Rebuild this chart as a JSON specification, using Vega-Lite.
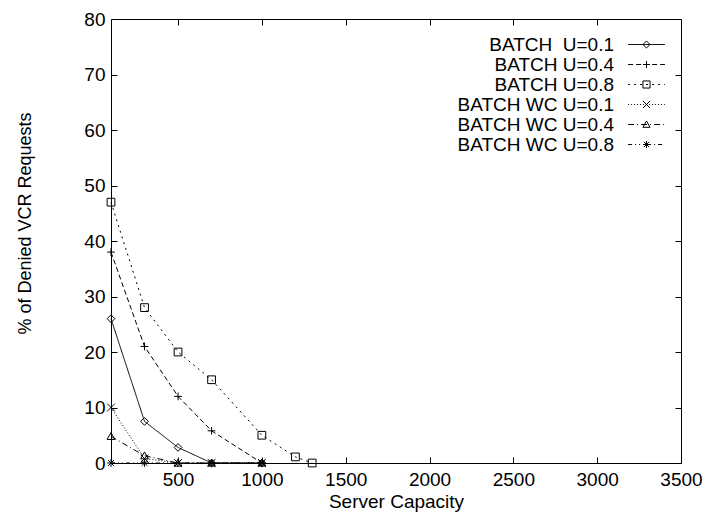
{
  "$schema": "https://vega.github.io/schema/vega-lite/v6.json",
  "autosize": "none",
  "width": 570,
  "height": 444,
  "padding": {"left": 111, "top": 19, "right": 26, "bottom": 52},
  "background": "white",
  "config": {
    "view": {"stroke": "black", "strokeWidth": 1},
    "font": "Liberation Sans",
    "axis": {"grid": false, "domain": false, "tickColor": "black", "tickWidth": 1, "tickSize": 6, "offset": -6, "labelColor": "black", "titleColor": "black", "labelFont": "Liberation Sans", "titleFont": "Liberation Sans", "labelFontSize": 19, "titleFontSize": 19, "titleFontWeight": "normal", "labelOverlap": false, "labelFlush": false, "format": "d", "zindex": 1}
  },
  "data": {"values": [
    {"s": "BATCH\u00a0 U=0.1", "x": 100, "y": 26},
    {"s": "BATCH\u00a0 U=0.1", "x": 300, "y": 7.5},
    {"s": "BATCH\u00a0 U=0.1", "x": 500, "y": 2.8},
    {"s": "BATCH\u00a0 U=0.1", "x": 700, "y": 0},
    {"s": "BATCH\u00a0 U=0.1", "x": 1000, "y": 0},
    {"s": "BATCH U=0.4", "x": 100, "y": 38},
    {"s": "BATCH U=0.4", "x": 300, "y": 21},
    {"s": "BATCH U=0.4", "x": 500, "y": 12},
    {"s": "BATCH U=0.4", "x": 700, "y": 5.8},
    {"s": "BATCH U=0.4", "x": 1000, "y": 0},
    {"s": "BATCH U=0.8", "x": 100, "y": 47},
    {"s": "BATCH U=0.8", "x": 300, "y": 28},
    {"s": "BATCH U=0.8", "x": 500, "y": 20},
    {"s": "BATCH U=0.8", "x": 700, "y": 15},
    {"s": "BATCH U=0.8", "x": 1000, "y": 5},
    {"s": "BATCH U=0.8", "x": 1200, "y": 1.1},
    {"s": "BATCH U=0.8", "x": 1300, "y": 0},
    {"s": "BATCH WC U=0.1", "x": 100, "y": 10},
    {"s": "BATCH WC U=0.1", "x": 300, "y": 0.8},
    {"s": "BATCH WC U=0.1", "x": 500, "y": 0},
    {"s": "BATCH WC U=0.1", "x": 700, "y": 0},
    {"s": "BATCH WC U=0.1", "x": 1000, "y": 0},
    {"s": "BATCH WC U=0.4", "x": 100, "y": 4.8},
    {"s": "BATCH WC U=0.4", "x": 300, "y": 1.3},
    {"s": "BATCH WC U=0.4", "x": 500, "y": 0},
    {"s": "BATCH WC U=0.4", "x": 700, "y": 0},
    {"s": "BATCH WC U=0.4", "x": 1000, "y": 0},
    {"s": "BATCH WC U=0.8", "x": 100, "y": 0},
    {"s": "BATCH WC U=0.8", "x": 300, "y": 0},
    {"s": "BATCH WC U=0.8", "x": 500, "y": 0},
    {"s": "BATCH WC U=0.8", "x": 700, "y": 0},
    {"s": "BATCH WC U=0.8", "x": 1000, "y": 0}
  ]},
  "transform": [{"calculate": "datum.s", "as": "s2"}],
  "resolve": {"axis": {"x": "independent", "y": "independent"}},
  "layer": [
    {
      "mark": {"type": "line", "color": "black", "strokeWidth": 1},
      "encoding": {
        "x": {"field": "x", "type": "quantitative", "scale": {"domain": [100, 3500], "nice": false, "zero": false},
              "axis": {"orient": "bottom", "values": [500, 1000, 1500, 2000, 2500, 3000, 3500], "title": "Server Capacity", "titleY": 50, "titleBaseline": "alphabetic", "labelPadding": 7}},
        "y": {"field": "y", "type": "quantitative", "scale": {"domain": [0, 80], "nice": false},
              "axis": {"orient": "left", "values": [0, 10, 20, 30, 40, 50, 60, 70, 80], "title": "% of Denied VCR Requests", "titleFontSize": 18, "titleX": -92, "titleY": 204, "titleBaseline": "middle", "titleAngle": -90, "labelPadding": 6}},
        "strokeDash": {"field": "s", "type": "nominal",
          "scale": {"domain": ["BATCH\u00a0 U=0.1", "BATCH U=0.4", "BATCH U=0.8", "BATCH WC U=0.1", "BATCH WC U=0.4", "BATCH WC U=0.8"],
                    "range": [[1, 0], [5, 3], [2, 4], [1, 2], [6, 3, 1, 3], [4, 3, 1, 3, 1, 3]]},
          "legend": {"orient": "none", "legendX": 515, "legendY": 16, "title": null, "symbolType": "M-5.2,0H5.2", "symbolSize": 50, "symbolStrokeWidth": 1, "symbolStrokeColor": "black", "symbolFillColor": "transparent", "symbolOffset": 11, "labelAlign": "right", "labelOffset": -42, "labelFontSize": 19, "labelFont": "Liberation Sans", "labelColor": "black", "labelLimit": 400, "rowPadding": 0, "padding": 0}}
      }
    },
    {
      "mark": {"type": "point", "filled": false, "color": "black", "strokeWidth": 1, "size": 60, "opacity": 1},
      "encoding": {
        "x": {"field": "x", "type": "quantitative", "axis": {"orient": "top", "values": [500, 1000, 1500, 2000, 2500, 3000, 3500], "labels": false, "ticks": true, "title": null}},
        "y": {"field": "y", "type": "quantitative", "axis": {"orient": "right", "values": [0, 10, 20, 30, 40, 50, 60, 70, 80], "labels": false, "ticks": true, "title": null}},
        "shape": {"field": "s2", "type": "nominal",
          "sort": ["BATCH\u00a0 U=0.1", "BATCH U=0.4", "BATCH U=0.8", "BATCH WC U=0.1", "BATCH WC U=0.4", "BATCH WC U=0.8"],
          "scale": {"range": ["M0,-1L1,0L0,1L-1,0Z", "M-1,0H1M0,-1V1", "M-1,-1H1V1H-1Z", "M-1,-1L1,1M-1,1L1,-1", "M0,-1L1,0.8H-1Z", "M-1,0H1M0,-1V1M-0.75,-0.75L0.75,0.75M-0.75,0.75L0.75,-0.75"]},
          "legend": {"orient": "none", "legendX": 515, "legendY": 16, "title": null, "symbolSize": 50, "symbolStrokeWidth": 1, "symbolStrokeColor": "black", "symbolFillColor": "transparent", "symbolOffset": 11, "labelFontSize": 19, "labelFont": "Liberation Sans", "labelColor": "transparent", "labelExpr": "''", "labelLimit": 400, "rowPadding": 0, "padding": 0}}
      }
    }
  ]
}
